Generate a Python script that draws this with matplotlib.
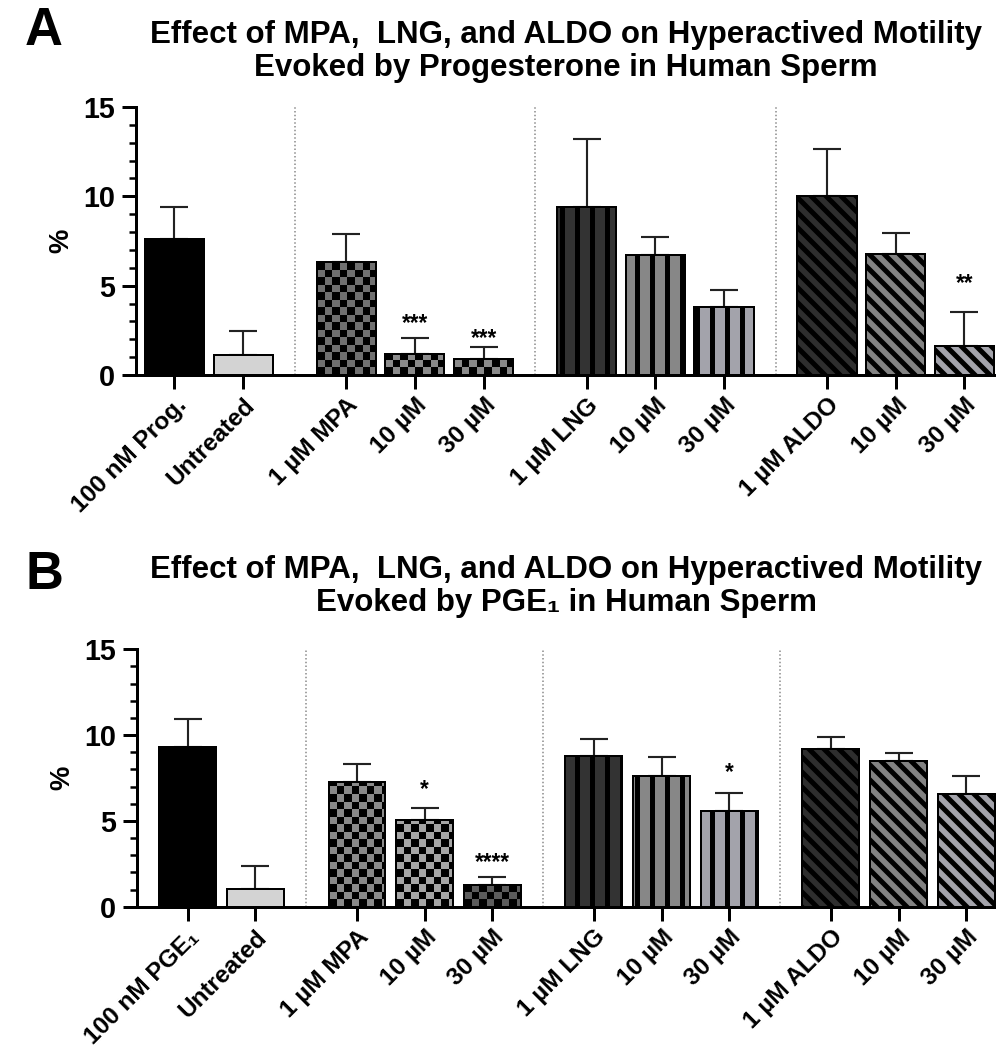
import numpy as np
import matplotlib
matplotlib.use("Agg")
import matplotlib.pyplot as plt

# ---- data -------------------------------------------------------------
labels_A = ["100 nM Prog.", "Untreated", "1 µM MPA", "10 µM", "30 µM",
            "1 µM LNG", "10 µM", "30 µM", "1 µM ALDO", "10 µM", "30 µM"]
labels_B = ["100 nM PGE\u2081", "Untreated", "1 µM MPA", "10 µM", "30 µM",
            "1 µM LNG", "10 µM", "30 µM", "1 µM ALDO", "10 µM", "30 µM"]

mean_A = [7.6, 1.1, 6.35, 1.2, 0.88, 9.4, 6.7, 3.8, 10.0, 6.8, 1.65]
sem_A = [1.8, 1.35, 1.55, 0.85, 0.67, 3.8, 1.05, 0.97, 2.65, 1.15, 1.9]

mean_B = [9.3, 1.05, 7.25, 5.05, 1.25, 8.8, 7.6, 5.6, 9.2, 8.5, 6.55]
sem_B = [1.65, 1.35, 1.05, 0.7, 0.5, 0.95, 1.1, 1.0, 0.7, 0.45, 1.05]

# significance marks: bar index -> (text, height in %)
sig_A = {3: ("***", 3.2), 4: ("***", 2.4), 10: ("**", 5.45)}
sig_B = {3: ("*", 7.2), 4: ("****", 2.95), 7: ("*", 8.15)}

# ---- styles -----------------------------------------------------------
positions = [0, 1, 2.5, 3.5, 4.5, 6, 7, 8, 9.5, 10.5, 11.5]
dividers = [1.75, 5.25, 8.75]
fills = ["solid", "solid", "checker", "checker", "checker",
         "vstripe", "vstripe", "vstripe", "dstripe", "dstripe", "dstripe"]
colors_A = ["black", "#d3d3d3", "#707070", "#8a8a8a", "#8a8a8a",
            "#333333", "#878787", "#a3a3ab", "#2e2e2e", "#828282", "#a3a3ab"]
colors_B = ["black", "#d3d3d3", "#8a8a8a", "#a5a5a5", "#5c5c5c",
            "#333333", "#878787", "#a3a3ab", "#2e2e2e", "#828282", "#a3a3ab"]

DPI = 90
plt.rcParams["font.family"] = ["Liberation Sans", "DejaVu Sans"]
plt.rcParams["font.weight"] = "bold"
plt.rcParams["hatch.linewidth"] = 4.0

fig = plt.figure(figsize=(996 / DPI, 1057 / DPI), dpi=DPI)


def checker_fill(ax, rect, cell=7.5):
    """Overlay a black checkerboard on a bar, clipped to the bar."""
    x0, y0 = rect.get_x(), rect.get_y()
    w, h = rect.get_width(), rect.get_height()
    px0, py0 = ax.transData.transform((x0, y0))
    px1, py1 = ax.transData.transform((x0 + w, y0 + h))
    nx = int(np.ceil((px1 - px0) / cell))
    ny = int(np.ceil((py1 - py0) / cell))
    ex1, ey1 = ax.transData.inverted().transform((px0 + nx * cell, py0 + ny * cell))
    grid = np.add.outer(np.arange(ny), np.arange(nx)) % 2
    rgba = np.zeros((ny, nx, 4))
    rgba[grid == 0] = (0, 0, 0, 1)
    im = ax.imshow(rgba, extent=(x0, ex1, y0, ey1), origin="lower",
                   interpolation="nearest", aspect="auto", zorder=2.5)
    im.set_clip_path(rect)


def draw_panel(rect, means, sems, colors, labels, sig, xlim, width):
    ax = fig.add_axes(rect)
    ax.set_xlim(*xlim)
    ax.set_ylim(0, 15)
    for i, (x, m, c, f) in enumerate(zip(positions, means, colors, fills)):
        hatch = {"vstripe": "|", "dstripe": "\\\\"}.get(f)
        bars = ax.bar(x, m, width=width, color=c, edgecolor="black",
                      linewidth=1.6, hatch=hatch, zorder=2)
        if f == "checker":
            checker_fill(ax, bars.patches[0])
        ax.bar(x, m, width=width, fill=False, edgecolor="black",
               linewidth=1.6, zorder=3)
    ax.errorbar(positions, means, yerr=[np.zeros(len(sems)), sems], fmt="none",
                ecolor="#222222", elinewidth=1.7, capsize=11, capthick=1.7,
                zorder=1.5)
    for idx, (txt, yv) in sig.items():
        ax.annotate(txt, (positions[idx], yv), xytext=(0, -10),
                    textcoords="offset points", ha="center", va="baseline",
                    fontsize=18, fontweight="bold")
    ax.vlines(dividers, 0, 15, colors="#888888", linestyles=(0, (1, 1.5)),
              linewidth=1.2, zorder=1)
    ax.set_xlim(*xlim)
    ax.set_ylim(0, 15)

    for s in ("top", "right"):
        ax.spines[s].set_visible(False)
    for s in ("left", "bottom"):
        ax.spines[s].set_linewidth(2.4)
    ax.set_yticks([0, 5, 10, 15])
    ax.set_yticks(np.arange(0, 16, 1), minor=True)
    ax.tick_params(axis="y", which="major", length=11, width=2.4,
                   labelsize=23, pad=6)
    ax.tick_params(axis="y", which="minor", length=5.5, width=2.0)
    ax.tick_params(axis="x", which="major", length=11, width=2.4, pad=4)
    ax.set_xticks(positions)
    ax.set_xticklabels(labels, rotation=45, ha="right", va="top",
                       rotation_mode="anchor", fontsize=19.5, fontweight="bold")
    for t in ax.get_yticklabels():
        t.set_fontweight("bold")
    ax.set_ylabel("%", fontsize=22, fontweight="bold", labelpad=7)
    return ax


axA = draw_panel([136 / 996, 1 - 375 / 1057, 860 / 996, 268 / 1057],
                 mean_A, sem_A, colors_A, labels_A, sig_A, (-0.56, 11.96), 0.86)
axB = draw_panel([137 / 996, 1 - 906.7 / 1057, 859 / 996, 257.4 / 1057],
                 mean_B, sem_B, colors_B, labels_B, sig_B, (-0.75, 11.94), 0.84)

title_kw = dict(ha="center", va="center", fontsize=25, fontweight="bold")
fig.text(566 / 996, 1 - 35 / 1057,
         "Effect of MPA,  LNG, and ALDO on Hyperactived Motility", **title_kw)
fig.text(566 / 996, 1 - 68 / 1057,
         "Evoked by Progesterone in Human Sperm", **title_kw)
fig.text(566 / 996, 1 - 570 / 1057,
         "Effect of MPA,  LNG, and ALDO on Hyperactived Motility", **title_kw)
fig.text(566 / 996, 1 - 603 / 1057,
         "Evoked by PGE\u2081 in Human Sperm", **title_kw)

fig.text(44 / 996, 1 - 31 / 1057, "A", ha="center", va="center",
         fontsize=42, fontweight="bold")
fig.text(44 / 996, 1 - 575 / 1057, "B", ha="center", va="center",
         fontsize=42, fontweight="bold")

fig.savefig("out.png", dpi=DPI)
